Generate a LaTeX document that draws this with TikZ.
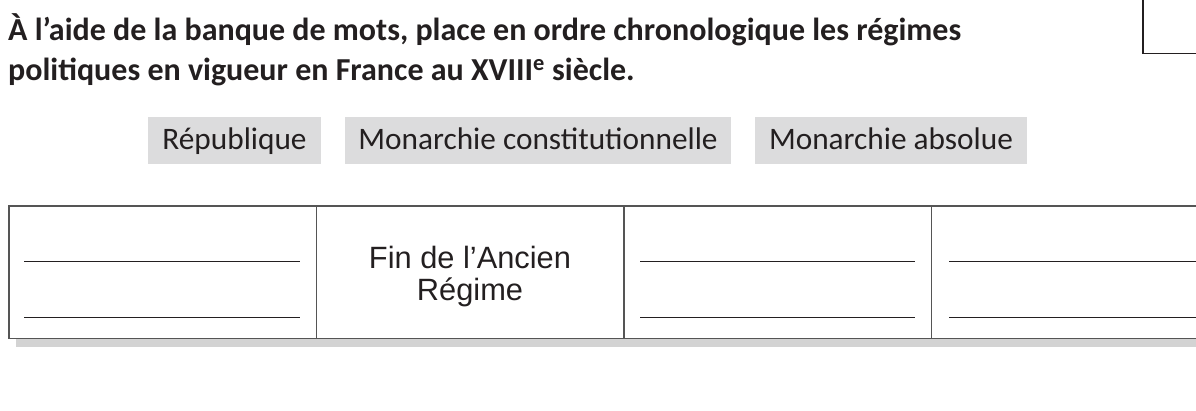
\documentclass[tikz,border=0pt]{standalone}
\usepackage{fontspec}
\setmainfont{Carlito}
\newfontfamily\helv{Liberation Sans}
\definecolor{ink}{HTML}{231F20}
\definecolor{bankgray}{HTML}{DCDCDD}
\definecolor{shadowgray}{HTML}{D3D3D3}
\definecolor{frame}{HTML}{555555}
\begin{document}
\begin{tikzpicture}[x=1pt,y=-1pt,
  title/.style={anchor=base west,inner sep=0pt,font=\fontsize{32}{36}\selectfont\bfseries,text=ink},
  banktext/.style={anchor=base,inner sep=0pt,font=\fontsize{31.3}{36}\selectfont,text=ink},
  midtext/.style={anchor=base,inner sep=0pt,font=\helv\fontsize{30.8}{36}\selectfont,text=ink},
  answerline/.style={draw=ink,line width=1.3pt},
  framebox/.style={draw=frame,line width=1.8pt},
  cellsep/.style={draw=frame,line width=1.5pt}]
\useasboundingbox (0,0) rectangle (1196,410);
% title
\node[title] (t1) at (8,40) {À l’aide de la banque de mots, place en ordre chronologique les régimes};
\node[title] (t2) at (8,80) {politiques en vigueur en France au XVIII\textsuperscript{e} siècle.};
% top right box
\draw[framebox,draw=ink] (1143,-2) -- (1143,53.5) -- (1200,53.5);
% word bank
\fill[bankgray] (148,117) rectangle (321,164);
\node[banktext] (w1) at (234.5,149) {République};
\fill[bankgray] (345,117) rectangle (731,164);
\node[banktext] (w2) at (538,149) {Monarchie constitutionnelle};
\fill[bankgray] (755,117) rectangle (1027,164);
\node[banktext] (w3) at (891,149) {Monarchie absolue};
% table shadow
\fill[shadowgray] (16,339) rectangle (1196,347);
% table frame
\draw[framebox] (1200,206) -- (9,206) -- (9,338.5) -- (1200,338.5);
\draw[cellsep] (316.5,206) -- (316.5,338.5);
\draw[cellsep] (624,206) -- (624,338.5);
\draw[cellsep] (931.5,206) -- (931.5,338.5);
% answer lines
\draw[answerline] (24,261.5) -- (300,261.5);
\draw[answerline] (24,317.5) -- (300,317.5);
\draw[answerline] (640,261.5) -- (915,261.5);
\draw[answerline] (640,317.5) -- (915,317.5);
\draw[answerline] (949,261.5) -- (1200,261.5);
\draw[answerline] (949,317.5) -- (1200,317.5);
% middle text
\node[midtext] (f1) at (470,268) {Fin de l’Ancien};
\node[midtext] (f2) at (470,300) {Régime};
\end{tikzpicture}
\end{document}
